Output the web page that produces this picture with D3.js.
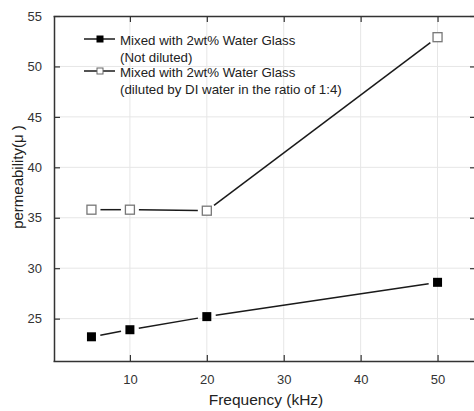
<!DOCTYPE html>
<html>
<head>
<meta charset="utf-8">
<script src="https://cdnjs.cloudflare.com/ajax/libs/d3/7.8.5/d3.min.js"></script>
<style>
  body { margin: 0; background: #fff; }
  text { font-family: "Liberation Sans", Arial, sans-serif; }
</style>
</head>
<body>
<script>
// data
var frequency = [5, 10, 20, 50];
var notDiluted = [23.2, 23.9, 25.2, 28.6];
var diluted = [35.8, 35.8, 35.7, 52.9];
var xTicks = [10, 20, 30, 40, 50];
var yTicks = [25, 30, 35, 40, 45, 50, 55];
var legendLabels = [
  ["Mixed with 2wt% Water Glass", "(Not diluted)"],
  ["Mixed with 2wt% Water Glass", "(diluted by DI water in the ratio of 1:4)"]
];

var width = 474, height = 411;
var plotLeft = 54, plotRight = 476, plotTop = 16, plotBottom = 361;

var x = d3.scaleLinear().domain([0, 55]).range([plotLeft - 1, plotRight]);
var y = d3.scaleLinear().domain([20.8, 55]).range([plotBottom, plotTop]);

var svg = d3.select("body").append("svg")
  .attr("width", width)
  .attr("height", height);

//grid lines
svg.append("g").selectAll("line").data(xTicks).enter().append("line")
  .attr("x1", function (d) { return x(d); }).attr("x2", function (d) { return x(d); })
  .attr("y1", plotTop).attr("y2", plotBottom)
  .attr("stroke", "#e6e6e6").attr("stroke-width", 1);
svg.append("g").selectAll("line").data(yTicks.slice(0, -1)).enter().append("line")
  .attr("x1", plotLeft).attr("x2", plotRight)
  .attr("y1", function (d) { return y(d); }).attr("y2", function (d) { return y(d); })
  .attr("stroke", "#e6e6e6").attr("stroke-width", 1);

//axes, ticks inward
var axisColor = "#333";
var bottomAxis = svg.append("g").attr("transform", "translate(0," + plotBottom + ")")
  .call(d3.axisBottom(x).tickValues(xTicks).tickSizeInner(-6).tickSizeOuter(0).tickPadding(14));
var topAxis = svg.append("g").attr("transform", "translate(0," + plotTop + ")")
  .call(d3.axisTop(x).tickValues(xTicks).tickSizeInner(-6).tickSizeOuter(0).tickFormat(""));
var leftAxis = svg.append("g").attr("transform", "translate(" + plotLeft + ",0)")
  .call(d3.axisLeft(y).tickValues(yTicks).tickSizeInner(-6).tickSizeOuter(0).tickPadding(12));
var rightAxis = svg.append("g").attr("transform", "translate(" + plotRight + ",0)")
  .call(d3.axisRight(y).tickValues(yTicks).tickSizeInner(-6).tickSizeOuter(0).tickFormat(""));

[bottomAxis, topAxis, leftAxis, rightAxis].forEach(function (a) {
  a.select(".domain").attr("stroke", axisColor).attr("stroke-width", 1.5);
  a.selectAll(".tick line").attr("stroke", axisColor).attr("stroke-width", 1.2);
  a.selectAll(".tick text").attr("fill", "#333").style("font-size", "13px")
    .style("font-family", "Liberation Sans, Arial, sans-serif");
});

//axis titles
svg.append("text")
  .attr("x", 266).attr("y", 405)
  .attr("text-anchor", "middle").attr("fill", "#222")
  .style("font-size", "15.5px").text("Frequency (kHz)");
svg.append("text")
  .attr("transform", "translate(23,177) rotate(-90)")
  .attr("text-anchor", "middle").attr("fill", "#222")
  .style("font-size", "15px").text("permeability(μ )");

//line segments with a gap at each marker
function drawSeries(values, gap) {
  var pts = frequency.map(function (f, i) { return [x(f), y(values[i])]; });
  for (var i = 0; i < pts.length - 1; i++) {
    var a = pts[i], b = pts[i + 1];
    var dx = b[0] - a[0], dy = b[1] - a[1];
    var len = Math.sqrt(dx * dx + dy * dy);
    var ux = dx / len, uy = dy / len;
    svg.append("line")
      .attr("x1", a[0] + ux * gap).attr("y1", a[1] + uy * gap)
      .attr("x2", b[0] - ux * gap).attr("y2", b[1] - uy * gap)
      .attr("stroke", "#1a1a1a").attr("stroke-width", 1.5);
  }
}
drawSeries(notDiluted, 9);
drawSeries(diluted, 9);

var s = 9;
svg.append("g").selectAll("rect").data(notDiluted).enter().append("rect")
  .attr("x", function (d, i) { return x(frequency[i]) - s / 2; })
  .attr("y", function (d) { return y(d) - s / 2; })
  .attr("width", s).attr("height", s)
  .attr("fill", "#000");
svg.append("g").selectAll("rect").data(diluted).enter().append("rect")
  .attr("x", function (d, i) { return x(frequency[i]) - s / 2; })
  .attr("y", function (d) { return y(d) - s / 2; })
  .attr("width", s).attr("height", s)
  .attr("fill", "#fff").attr("stroke", "#777").attr("stroke-width", 1.3);

//legend
var legend = svg.append("g");
legendLabels.forEach(function (lab, i) {
  var ly = 39 + i * 32;
  legend.append("line").attr("x1", 84).attr("x2", 115).attr("y1", ly).attr("y2", ly)
    .attr("stroke", "#1a1a1a").attr("stroke-width", 1.5);
  legend.append("rect").attr("x", 100 - 3).attr("y", ly - 3).attr("width", 6).attr("height", 6)
    .attr("fill", i == 0 ? "#000" : "#fff").attr("stroke", i == 0 ? "#000" : "#666").attr("stroke-width", 1);
  lab.forEach(function (t, j) {
    legend.append("text").attr("x", 120).attr("y", ly + 6 + j * 17)
      .attr("fill", "#222").style("font-size", "13.3px").text(t);
  });
});
</script>
</body>
</html>
